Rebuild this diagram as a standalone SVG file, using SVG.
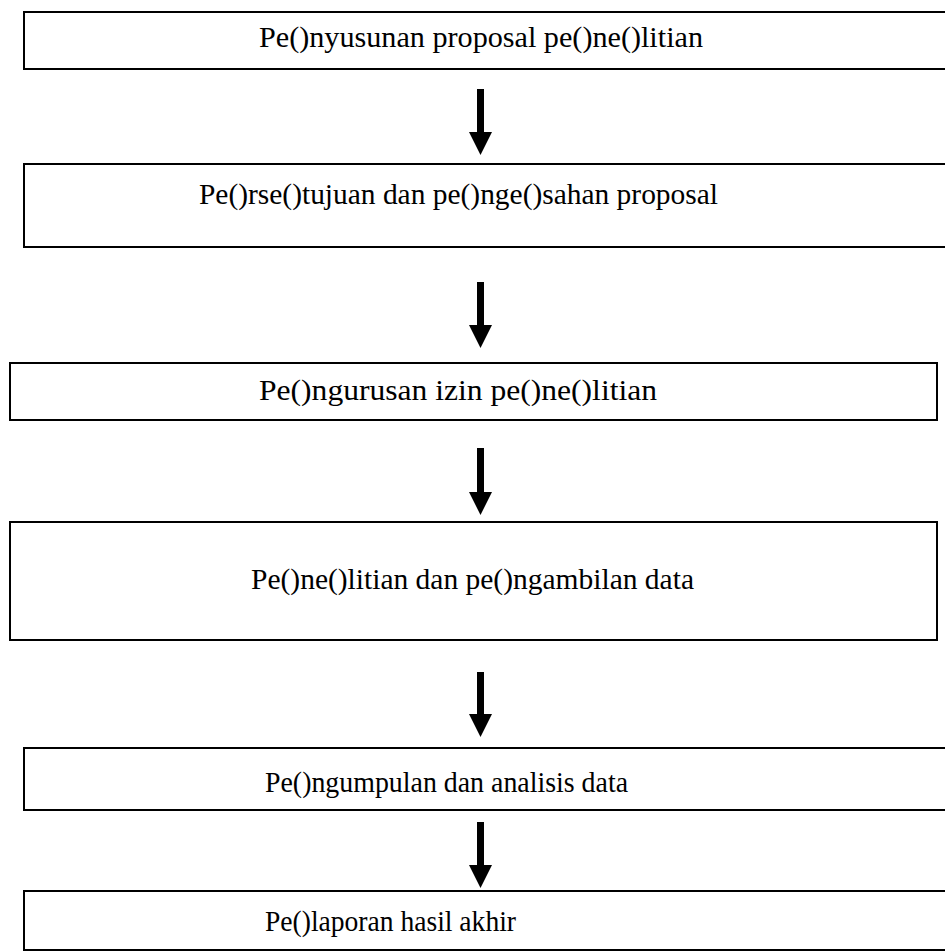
<svg xmlns="http://www.w3.org/2000/svg" width="945" height="952" viewBox="0 0 945 952">
<style>
.box{fill:#fff;stroke:#000;stroke-width:2}
.lbl{font-family:"Liberation Serif","Times New Roman",serif;font-size:30px;fill:#000}
.conn{stroke:#000;stroke-width:7;fill:none}
</style>
<defs>
<marker id="ah" markerUnits="userSpaceOnUse" markerWidth="24" markerHeight="24" refX="1" refY="11.5" orient="auto">
<path d="M0,0 L23,11.5 L0,23 z" fill="#000"/>
</marker>
</defs>
<rect width="945" height="952" fill="#fff"/>
<g id="node1">
<rect class="box" x="24" y="12" width="930" height="57"/>
<text class="lbl" x="259" y="47" textLength="444" lengthAdjust="spacingAndGlyphs">Pe()nyusunan proposal pe()ne()litian</text>
</g>
<g id="node2">
<rect class="box" x="24" y="164" width="930" height="83"/>
<text class="lbl" x="199" y="204" textLength="519" lengthAdjust="spacingAndGlyphs">Pe()rse()tujuan dan pe()nge()sahan proposal</text>
</g>
<g id="node3">
<rect class="box" x="10" y="363" width="927" height="57"/>
<text class="lbl" x="259" y="400" textLength="398" lengthAdjust="spacingAndGlyphs">Pe()ngurusan izin pe()ne()litian</text>
</g>
<g id="node4">
<rect class="box" x="10" y="522" width="927" height="118"/>
<text class="lbl" x="251" y="589" textLength="443" lengthAdjust="spacingAndGlyphs">Pe()ne()litian dan pe()ngambilan data</text>
</g>
<g id="node5">
<rect class="box" x="24" y="748" width="930" height="62"/>
<text class="lbl" x="265" y="792" textLength="363" lengthAdjust="spacingAndGlyphs">Pe()ngumpulan dan analisis data</text>
</g>
<g id="node6">
<rect class="box" x="24" y="891" width="930" height="59"/>
<text class="lbl" x="265" y="931" textLength="251" lengthAdjust="spacingAndGlyphs">Pe()laporan hasil akhir</text>
</g>
<g id="connectors">
<line class="conn" x1="480.5" y1="89" x2="480.5" y2="133" marker-end="url(#ah)"/>
<line class="conn" x1="480.5" y1="282" x2="480.5" y2="326" marker-end="url(#ah)"/>
<line class="conn" x1="480.5" y1="448" x2="480.5" y2="493" marker-end="url(#ah)"/>
<line class="conn" x1="480.5" y1="672" x2="480.5" y2="715" marker-end="url(#ah)"/>
<line class="conn" x1="480.5" y1="822" x2="480.5" y2="866" marker-end="url(#ah)"/>
</g>
</svg>
